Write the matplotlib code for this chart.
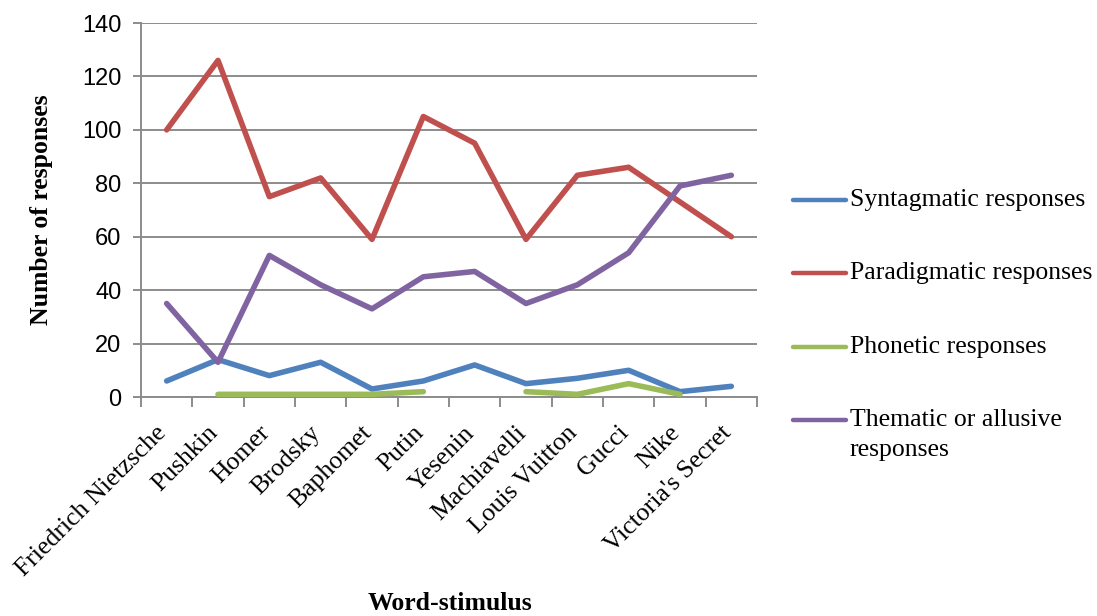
import matplotlib
matplotlib.use("Agg")
import matplotlib.pyplot as plt
from matplotlib.lines import Line2D
from matplotlib.transforms import ScaledTranslation
import numpy as np

stimuli = ["Friedrich Nietzsche", "Pushkin", "Homer", "Brodsky", "Baphomet", "Putin",
           "Yesenin", "Machiavelli", "Louis Vuitton", "Gucci", "Nike", "Victoria's Secret"]

syntagmatic = [6, 14, 8, 13, 3, 6, 12, 5, 7, 10, 2, 4]
paradigmatic = [100, 126, 75, 82, 59, 105, 95, 59, 83, 86, 73, 60]
phonetic = [np.nan, 1, 1, 1, 1, 2, np.nan, 2, 1, 5, 1, np.nan]
thematic = [35, 13, 53, 42, 33, 45, 47, 35, 42, 54, 79, 83]

series_labels = ["Syntagmatic responses", "Paradigmatic responses",
                 "Phonetic responses", "Thematic or allusive\nresponses"]
series_colors = ["#4F81BD", "#C0504D", "#9BBB59", "#8064A2"]

W, H = 1097, 616
fig = plt.figure(figsize=(W / 100, H / 100), dpi=100)
ax = fig.add_axes([141 / W, 1 - 397 / H, (757 - 141) / W, (397 - 23) / H])

x = np.arange(len(stimuli))
lw = 4.0
for vals, col in zip([syntagmatic, paradigmatic, phonetic, thematic], series_colors):
    ax.plot(x, vals, color=col, lw=lw, solid_capstyle="round", solid_joinstyle="round",
            zorder=3)

grid_col = "#8C8C8C"
ax.set_xlim(-0.5, len(stimuli) - 0.5)
ax.set_ylim(0, 140)
ax.set_yticks(np.arange(0, 141, 20))
ax.yaxis.grid(True, color=grid_col, lw=1.4)
ax.set_axisbelow(True)
for s in ["top", "right"]:
    ax.spines[s].set_visible(False)
for s in ["left", "bottom"]:
    ax.spines[s].set_color(grid_col)
    ax.spines[s].set_linewidth(1.4)
    ax.spines[s].set_zorder(2)

# category boundaries carry the tick marks, labels sit at the centres
ax.set_xticks(np.arange(-0.5, len(stimuli), 1.0), minor=True)
ax.set_xticks(x)
ax.tick_params(axis="x", which="major", length=0, pad=10)
ax.tick_params(axis="x", which="minor", length=7, width=1.4, color=grid_col, direction="out")
ax.tick_params(axis="y", length=6, width=1.4, color=grid_col, direction="out", pad=8)
ax.set_xticklabels(stimuli, rotation=45, ha="right", va="top", rotation_mode="anchor",
                   family="Liberation Serif", fontsize=18.5)
shift = ScaledTranslation(-0.11, -0.11, fig.dpi_scale_trans)
for lab in ax.get_xticklabels():
    lab.set_transform(lab.get_transform() + shift)
for lab in ax.get_yticklabels():
    lab.set_family("Liberation Sans")
    lab.set_fontsize(17)

fig.text(42 / W, 1 - 210 / H, "Number of responses", rotation=90, ha="center", va="center",
         family="Liberation Serif", fontweight="bold", fontsize=18.5)
fig.text(450 / W, 1 - 603 / H, "Word-stimulus", ha="center", va="center",
         family="Liberation Serif", fontweight="bold", fontsize=18.5)

# legend on the right
rows = [200, 273, 347, 420]
for lab, col, yy in zip(series_labels, series_colors, rows):
    yf = 1 - yy / H
    fig.add_artist(Line2D([793 / W, 846 / W], [yf, yf], color=col, lw=3.2,
                          solid_capstyle="round", transform=fig.transFigure))
    for k, line in enumerate(lab.split("\n")):
        fig.text(850 / W, yf - k * 30 / H, line, ha="left", va="center",
                 family="Liberation Serif", fontsize=18.5)

fig.savefig("out.png", dpi=100)
